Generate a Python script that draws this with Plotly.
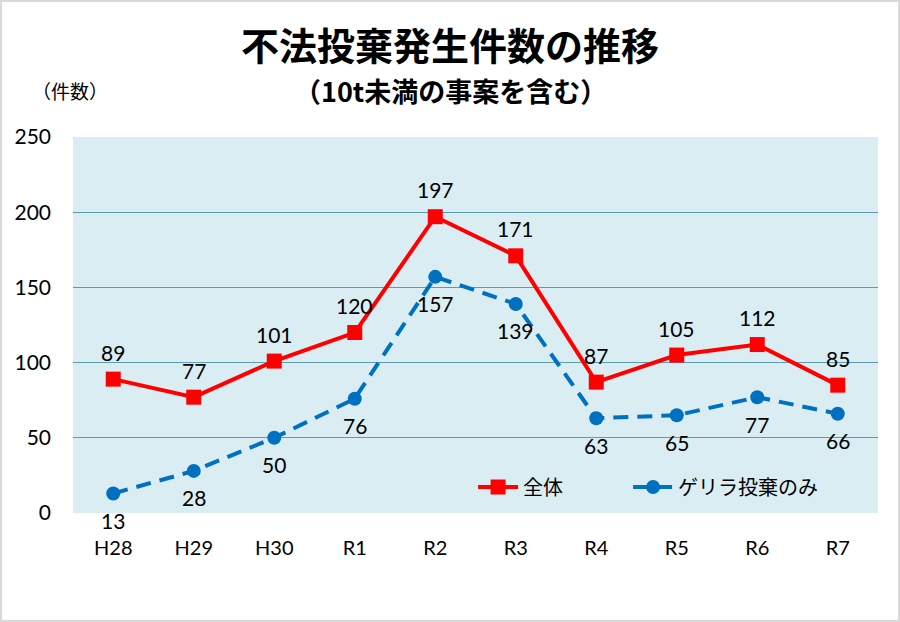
import plotly.graph_objects as go

categories = ["H28", "H29", "H30", "R1", "R2", "R3", "R4", "R5", "R6", "R7"]
total = [89, 77, 101, 120, 197, 171, 87, 105, 112, 85]
guerrilla = [13, 28, 50, 76, 157, 139, 63, 65, 77, 66]
y_ticks = [0, 50, 100, 150, 200, 250]

FONT = "Lato, 'Noto Sans CJK JP', sans-serif"
JP = "'Noto Sans CJK JP', sans-serif"

fig = go.Figure()
fig.add_trace(go.Scatter(
    x=categories, y=total, name="全体\u3000\u3000\u3000", mode="lines+markers",
    line=dict(color="#FF0000", width=4),
    marker=dict(symbol="square", size=15, color="#FF0000"),
    cliponaxis=False,
))
fig.add_trace(go.Scatter(
    x=categories, y=guerrilla, name="ゲリラ投棄のみ", mode="lines+markers",
    line=dict(color="#0070C0", width=4, dash="15px,9px"),
    marker=dict(symbol="circle", size=14, color="#0070C0"),
    cliponaxis=False,
))

W, H = 900, 622
ml, mr, mt, mb = 73, 22, 137, 109
pw, ph = W - ml - mr, H - mt - mb

fig.update_layout(
    width=W, height=H,
    margin=dict(l=ml, r=mr, t=mt, b=mb),
    paper_bgcolor="white",
    plot_bgcolor="#DAEDF3",
    font=dict(family=FONT, color="#000000"),
    showlegend=True,
    legend=dict(
        orientation="h", x=0.497, y=0.069, xanchor="left", yanchor="middle",
        bgcolor="rgba(0,0,0,0)", font=dict(size=20, family=JP),
        itemwidth=40, tracegroupgap=0,
    ),
    xaxis=dict(
        type="category", range=[-0.5, 9.5], showgrid=False,
        tickfont=dict(size=20, family=FONT), ticks="", ticklabelstandoff=21,
        showline=False, zeroline=False,
    ),
    yaxis=dict(
        range=[0, 250], tickvals=y_ticks, showgrid=True,
        gridcolor="#5A9DB0", gridwidth=1.3,
        tickfont=dict(size=21, family=FONT), ticks="", ticklabelstandoff=21,
        zeroline=False, showline=False,
    ),
)

# data labels
for c, v in zip(categories, total):
    fig.add_annotation(x=c, y=v, text=str(v), showarrow=False, yshift=27,
                       borderpad=0, font=dict(size=21, family=FONT, color="#000000"))
for c, v in zip(categories, guerrilla):
    fig.add_annotation(x=c, y=v, text=str(v), showarrow=False, yshift=-27,
                       borderpad=0, font=dict(size=21, family=FONT, color="#000000"))

# titles (pixel positions converted to paper coords)
def px_ann(text, px, py, size):
    fig.add_annotation(text=text, x=(px - ml) / pw, y=1 + (mt - py) / ph,
                       xref="paper", yref="paper", xanchor="center", yanchor="middle",
                       showarrow=False, font=dict(size=size, family=JP, color="#000000"))

px_ann("<b>不法投棄発生件数の推移</b>", 450, 44, 38)
px_ann("<b>（10t未満の事案を含む）</b>", 450, 91, 27)
px_ann("（件数）", 70, 90, 19)

# figure border
fig.add_shape(type="rect", xref="paper", yref="paper",
              x0=(1 - ml) / pw, x1=(W - 1 - ml) / pw,
              y0=-(mb - 1) / ph, y1=1 + (mt - 1) / ph,
              line=dict(color="#D9D9D9", width=2), layer="below")

fig.write_html("out.html")
